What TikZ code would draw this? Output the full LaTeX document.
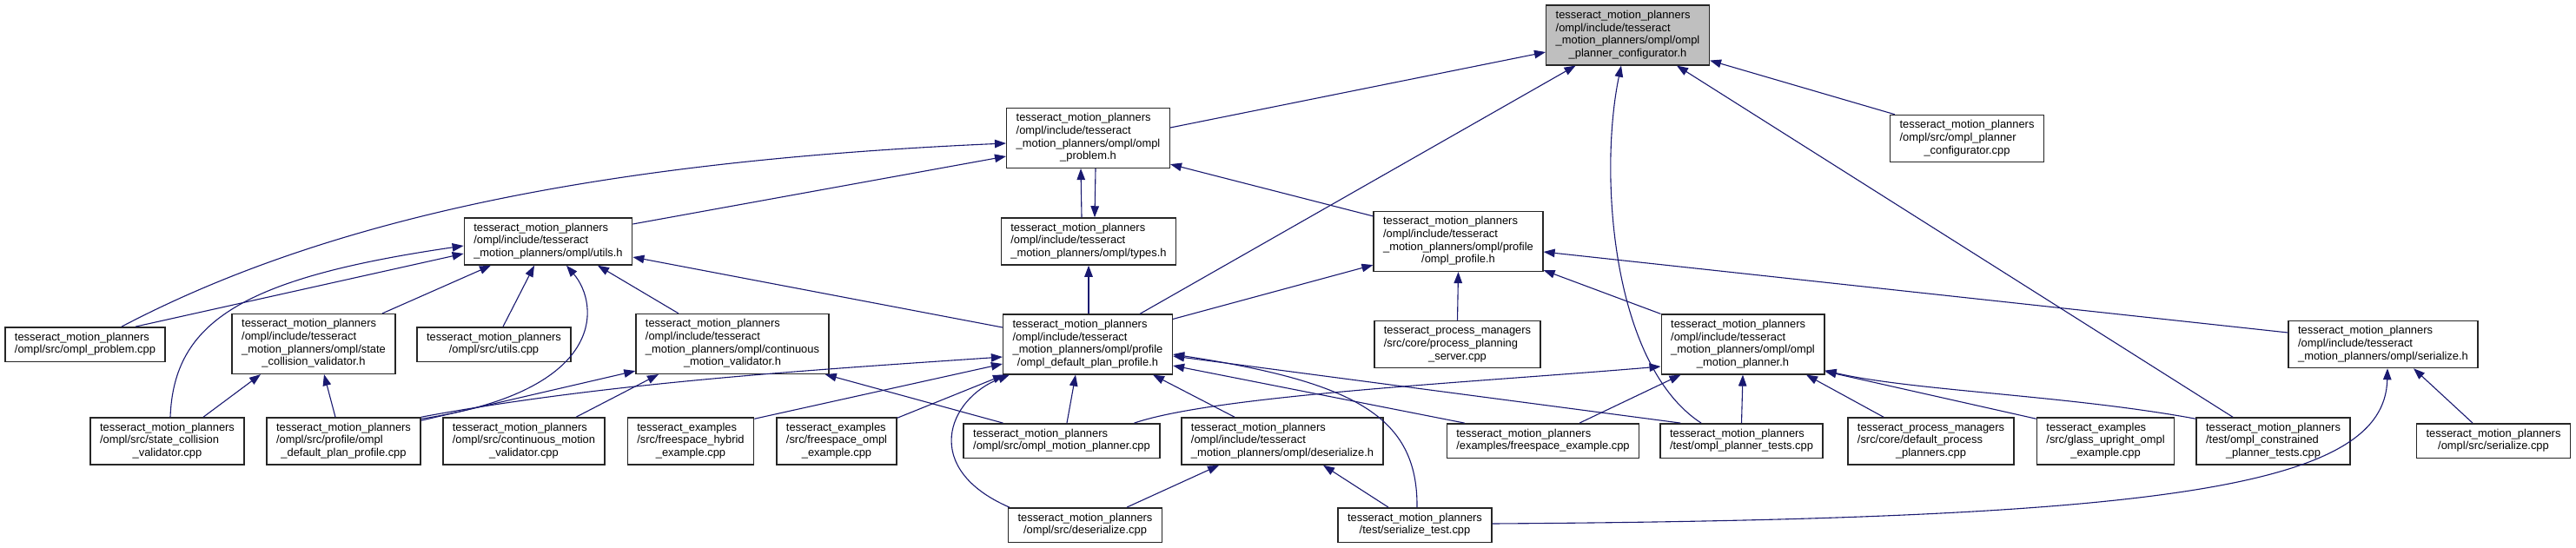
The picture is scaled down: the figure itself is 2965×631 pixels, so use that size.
\documentclass[tikz,border=0pt]{standalone}
\usepackage{fontspec}
\setmainfont{Liberation Sans}
\usetikzlibrary{arrows.meta}
\definecolor{edgeblue}{HTML}{191970}
\definecolor{rootgray}{HTML}{BFBFBF}
\newcommand{\flines}[2]{\begin{tabular}{@{}l@{}}#1\\\multicolumn{1}{@{}c@{}}{#2}\end{tabular}}

\begin{document}
\begin{tikzpicture}[x=1pt, y=-1pt,
    file/.style={draw=black!85, line width=1.4pt, fill=white, inner xsep=11pt, inner ysep=5pt, font=\fontsize{12.9}{14.7}\selectfont},
    root/.style={file, fill=rootgray},
    inc/.style={edgeblue, line width=1.1pt, -{Triangle[length=13pt, width=9.5pt]}}]
    \fill[white] (0,0) rectangle (2965,631);
    \useasboundingbox (0,0) rectangle (2965,631);

    \node[root] (CfgH) at (1873.5,40.5) {\flines{tesseract\_motion\_planners\\/ompl/include/tesseract\\\_motion\_planners/ompl/ompl}{\_planner\_configurator.h}};

    \node[file] (ProbH) at (1252.5,159) {\flines{tesseract\_motion\_planners\\/ompl/include/tesseract\\\_motion\_planners/ompl/ompl}{\_problem.h}};
    \node[file] (CfgCpp) at (2264,159.5) {\flines{tesseract\_motion\_planners\\/ompl/src/ompl\_planner}{\_configurator.cpp}};

    \node[file] (UtilsH) at (631,278) {\flines{tesseract\_motion\_planners\\/ompl/include/tesseract}{\_motion\_planners/ompl/utils.h}};
    \node[file] (TypesH) at (1253,278) {\flines{tesseract\_motion\_planners\\/ompl/include/tesseract}{\_motion\_planners/ompl/types.h}};
    \node[file] (ProfH) at (1678.5,278) {\flines{tesseract\_motion\_planners\\/ompl/include/tesseract\\\_motion\_planners/ompl/profile}{/ompl\_profile.h}};

    \node[file] (ProbCpp) at (98,396.5) {\flines{tesseract\_motion\_planners}{/ompl/src/ompl\_problem.cpp}};
    \node[file] (ScvH) at (361,396) {\flines{tesseract\_motion\_planners\\/ompl/include/tesseract\\\_motion\_planners/ompl/state}{\_collision\_validator.h}};
    \node[file] (UtilsCpp) at (568.5,396.5) {\flines{tesseract\_motion\_planners}{/ompl/src/utils.cpp}};
    \node[file] (CmvH) at (843,396) {\flines{tesseract\_motion\_planners\\/ompl/include/tesseract\\\_motion\_planners/ompl/continuous}{\_motion\_validator.h}};
    \node[file] (DppH) at (1252,396.5) {\flines{tesseract\_motion\_planners\\/ompl/include/tesseract\\\_motion\_planners/ompl/profile}{/ompl\_default\_plan\_profile.h}};
    \node[file] (PpsCpp) at (1677.5,396.5) {\flines{tesseract\_process\_managers\\/src/core/process\_planning}{\_server.cpp}};
    \node[file] (MpH) at (2006,396.5) {\flines{tesseract\_motion\_planners\\/ompl/include/tesseract\\\_motion\_planners/ompl/ompl}{\_motion\_planner.h}};
    \node[file] (SerH) at (2743,396.5) {\flines{tesseract\_motion\_planners\\/ompl/include/tesseract}{\_motion\_planners/ompl/serialize.h}};

    \node[file] (ScvCpp) at (192.5,508) {\flines{tesseract\_motion\_planners\\/ompl/src/state\_collision}{\_validator.cpp}};
    \node[file] (DppCpp) at (395.5,508) {\flines{tesseract\_motion\_planners\\/ompl/src/profile/ompl}{\_default\_plan\_profile.cpp}};
    \node[file] (CmvCpp) at (603,508) {\flines{tesseract\_motion\_planners\\/ompl/src/continuous\_motion}{\_validator.cpp}};
    \node[file] (FhCpp) at (795,508) {\flines{tesseract\_examples\\/src/freespace\_hybrid}{\_example.cpp}};
    \node[file] (FoCpp) at (963,508) {\flines{tesseract\_examples\\/src/freespace\_ompl}{\_example.cpp}};
    \node[file] (OmpCpp) at (1222,507.5) {\flines{tesseract\_motion\_planners}{/ompl/src/ompl\_motion\_planner.cpp}};
    \node[file] (DesH) at (1476,508) {\flines{tesseract\_motion\_planners\\/ompl/include/tesseract}{\_motion\_planners/ompl/deserialize.h}};
    \node[file] (FeCpp) at (1776,507.5) {\flines{tesseract\_motion\_planners}{/examples/freespace\_example.cpp}};
    \node[file] (PtCpp) at (2004.5,507.5) {\flines{tesseract\_motion\_planners}{/test/ompl\_planner\_tests.cpp}};
    \node[file] (DpsCpp) at (2222.5,508) {\flines{tesseract\_process\_managers\\/src/core/default\_process}{\_planners.cpp}};
    \node[file] (GuCpp) at (2423.5,508) {\flines{tesseract\_examples\\/src/glass\_upright\_ompl}{\_example.cpp}};
    \node[file] (CptCpp) at (2616.5,508) {\flines{tesseract\_motion\_planners\\/test/ompl\_constrained}{\_planner\_tests.cpp}};
    \node[file] (SerCpp) at (2870,507.5) {\flines{tesseract\_motion\_planners}{/ompl/src/serialize.cpp}};

    \node[file] (DesCpp) at (1249,604.5) {\flines{tesseract\_motion\_planners}{/ompl/src/deserialize.cpp}};
    \node[file] (SertCpp) at (1628.5,604.5) {\flines{tesseract\_motion\_planners}{/test/serialize\_test.cpp}};

    \draw[inc] ([yshift=12pt]ProbH.east) -- ([yshift=-19.5pt]CfgH.west);
    \draw[inc] ([xshift=60pt]DppH.north) -- ([xshift=-60pt]CfgH.south);
    \draw[inc] ([xshift=-46.5pt]PtCpp.north) .. controls (1855,420) and (1840,200) .. ([xshift=-7.5pt]CfgH.south);
    \draw[inc] ([xshift=-46.5pt]CptCpp.north) -- ([xshift=56.5pt]CfgH.south);
    \draw[inc] ([xshift=6pt]CfgCpp.north west) -- ([yshift=6pt]CfgH.south east);

    \draw[inc] ([xshift=42pt]ProbCpp.north) .. controls (380,250) and (700,185) .. ([yshift=-6pt]ProbH.west);
    \draw[inc] ([yshift=20pt]UtilsH.east) -- ([yshift=-21pt]ProbH.west);
    \draw[inc] ([xshift=-8pt]TypesH.north) -- ([xshift=-8.5pt]ProbH.south);
    \draw[inc] ([xshift=8.5pt]ProbH.south) -- ([xshift=7pt]TypesH.north);
    \draw[inc] ([yshift=-6pt]ProfH.north west) -- ([yshift=5pt]ProbH.south east);

    \draw[inc] ([xshift=58pt]ProbCpp.north) -- ([yshift=-14pt]UtilsH.west);
    \draw[inc] ([xshift=3.5pt]ScvCpp.north) .. controls (200,370) and (280,320) .. ([yshift=-5pt]UtilsH.west);
    \draw[inc] ([xshift=79pt]ScvH.north) -- ([xshift=-66pt]UtilsH.south);
    \draw[inc] ([xshift=10.5pt]UtilsCpp.north) -- ([xshift=-16pt]UtilsH.south);
    \draw[inc] ([yshift=-2pt]DppCpp.north east) .. controls (700,450) and (690,350) .. ([xshift=21pt]UtilsH.south);
    \draw[inc] ([xshift=-62pt]CmvH.north) -- ([xshift=57pt]UtilsH.south);
    \draw[inc] ([yshift=19.5pt]DppH.west) -- ([yshift=-18pt]UtilsH.east);

    \draw[inc] ([xshift=1pt]DppH.north) -- (TypesH.south);
    \draw[inc] ([yshift=-6pt]DppH.north east) -- ([yshift=8pt]ProfH.south west);
    \draw[inc] (PpsCpp.north) -- (ProfH.south);
    \draw[inc] (MpH.north west) -- ([yshift=2pt]ProfH.south east);
    \draw[inc] ([yshift=13.5pt]SerH.west) -- ([yshift=-12pt]ProfH.east);

    \draw[inc] ([xshift=41.5pt]ScvCpp.north) -- ([xshift=-61pt]ScvH.south);
    \draw[inc] ([xshift=-9.5pt]DppCpp.north) -- ([xshift=12pt]ScvH.south);
    \draw[inc] ([yshift=-4pt]DppCpp.north east) -- ([yshift=4pt]CmvH.south west);
    \draw[inc] ([xshift=60pt]CmvCpp.north) -- ([xshift=-85pt]CmvH.south);
    \draw[inc] ([xshift=46pt]OmpCpp.north west) -- ([xshift=-5pt]CmvH.south east);

    \draw[inc] (DppCpp.north east) .. controls (700,440) and (950,425) .. ([yshift=-14.5pt]DppH.west);
    \draw[inc] ([yshift=-2pt]FhCpp.north east) -- ([yshift=-22.5pt]DppH.west);
    \draw[inc] ([yshift=-1pt]FoCpp.north east) -- ([xshift=2pt]DppH.south west);
    \draw[inc] ([xshift=2pt]DesCpp.north west) .. controls (1060,540) and (1090,460) .. ([xshift=8pt]DppH.south west);
    \draw[inc] ([xshift=6pt]OmpCpp.north) -- ([xshift=-14pt]DppH.south);
    \draw[inc] ([xshift=-55pt]DesH.north) -- ([xshift=75pt]DppH.south);
    \draw[inc] ([xshift=2.5pt]SertCpp.north) .. controls (1632,480) and (1560,440) .. ([yshift=-11.5pt]DppH.east);
    \draw[inc] ([xshift=24pt]PtCpp.north west) -- ([yshift=-13.5pt]DppH.east);
    \draw[inc] ([xshift=21pt]FeCpp.north west) -- ([yshift=-24.5pt]DppH.east);

    \draw[inc] ([xshift=-30pt]OmpCpp.north east) .. controls (1400,455) and (1700,440) .. ([yshift=-25.5pt]MpH.west);
    \draw[inc] ([xshift=42pt]FeCpp.north) -- ([xshift=23pt]MpH.south west);
    \draw[inc] (PtCpp.north) -- (MpH.south);
    \draw[inc] ([xshift=-54.5pt]DpsCpp.north) -- ([xshift=73pt]MpH.south);
    \draw[inc] ([yshift=-2pt]GuCpp.north west) -- ([yshift=4pt]MpH.south east);
    \draw[inc] ([yshift=-2pt]CptCpp.north west) .. controls (2380,455) and (2200,450) .. ([yshift=5pt]MpH.south east);

    \draw[inc] ([yshift=1.5pt]SertCpp.east) .. controls (2500,598) and (2745,560) .. ([xshift=5pt]SerH.south);
    \draw[inc] ([xshift=-24pt]SerCpp.north) -- ([xshift=35pt]SerH.south);
    \draw[inc] ([xshift=-30.5pt]SertCpp.north) -- ([xshift=47pt]DesH.south);
    \draw[inc] ([xshift=48pt]DesCpp.north) -- ([xshift=-73pt]DesH.south);
\end{tikzpicture}
\end{document}
